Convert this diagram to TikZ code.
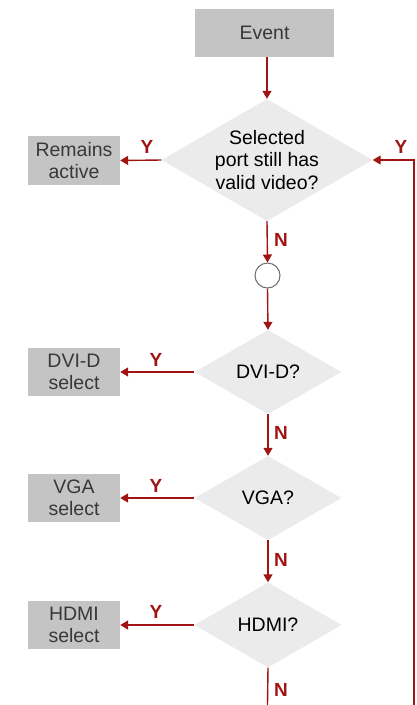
\documentclass[tikz,border=0pt]{standalone}
\usepackage{fontspec}
\setmainfont{Liberation Sans}
\usetikzlibrary{shapes.geometric,arrows.meta}
\definecolor{arrred}{HTML}{A01414}
\definecolor{boxgray}{HTML}{C4C4C4}
\definecolor{diagray}{HTML}{EBEBEB}
\definecolor{boxtext}{HTML}{383838}
\tikzset{
  box/.style={rectangle, fill=boxgray, text=boxtext, inner sep=0pt, align=center,
    font=\fontsize{19.5}{22.5}\selectfont},
  dia/.style={diamond, fill=diagray, inner sep=0pt},
  dtext/.style={align=center, text=black, font=\fontsize{19.5}{22.5}\selectfont},
  arr/.style={draw=arrred, line width=1.4pt, -{Triangle[length=8pt,width=9pt]}},
  ln/.style={draw=arrred, line width=1.4pt},
  yn/.style={text=arrred, font=\fontsize{19}{19}\selectfont\bfseries},
  conn/.style={circle, draw=gray!85!black, line width=1pt, fill=white, minimum size=25pt, inner sep=0pt}
}
\begin{document}
\begin{tikzpicture}[x=1pt,y=-1pt]
\useasboundingbox (0,0) rectangle (416,705);
% boxes
\node[box, minimum width=139pt, minimum height=48pt] (ev) at (264.5,33) {Event};
\node[box, minimum width=92pt, minimum height=49pt] (ra) at (74,160.5) {Remains\\active};
\node[box, minimum width=92pt, minimum height=48pt] (dvis) at (74,372) {DVI-D\\select};
\node[box, minimum width=92pt, minimum height=48pt] (vgas) at (74,498) {VGA\\select};
\node[box, minimum width=92pt, minimum height=48pt] (hdmis) at (74,625) {HDMI\\select};
% diamonds
\node[dia, minimum width=211pt, minimum height=122pt] (d1) at (267,160) {};
\node[dtext] at (d1) {Selected\\port still has\\valid video?};
\node[dia, minimum width=147pt, minimum height=84pt] (d2) at (268,372) {};
\node[dtext] at (d2) {DVI-D?};
\node[dia, minimum width=147pt, minimum height=84pt] (d3) at (268,498) {};
\node[dtext] at (d3) {VGA?};
\node[dia, minimum width=147pt, minimum height=85pt] (d4) at (268,625) {};
\node[dtext] at (d4) {HDMI?};
% connector circle
\node[conn] (c1) at (267.5,275.5) {};
\coordinate (bot) at (267.5,705);
\coordinate (loopbot) at (414,705);
% connectors
\draw[arr] (ev.south -| d1.north) -- (d1.north);
\draw[arr] (d1.west) -- (ra.east);
\draw[arr] (d1.south) -- (c1.north);
\draw[arr] (c1.south) -- (d2.north);
\draw[arr] (d2.west) -- (dvis.east);
\draw[arr] (d2.south) -- (d3.north);
\draw[arr] (d3.west) -- (vgas.east);
\draw[arr] (d3.south) -- (d4.north);
\draw[arr] (d4.west) -- (hdmis.east);
\draw[ln] (d4.south) -- (bot);
\draw[arr] (loopbot) |- (d1.east);
% labels
\node[yn] (y1) at (147,147) {Y};
\node[yn] (y2) at (401,147) {Y};
\node[yn] (n1) at (281,240) {N};
\node[yn] (y3) at (156,360) {Y};
\node[yn] (n2) at (281,433) {N};
\node[yn] (y4) at (156,486) {Y};
\node[yn] (n3) at (281,560) {N};
\node[yn] (y5) at (156,612) {Y};
\node[yn] (n4) at (281,690) {N};
\end{tikzpicture}
\end{document}
